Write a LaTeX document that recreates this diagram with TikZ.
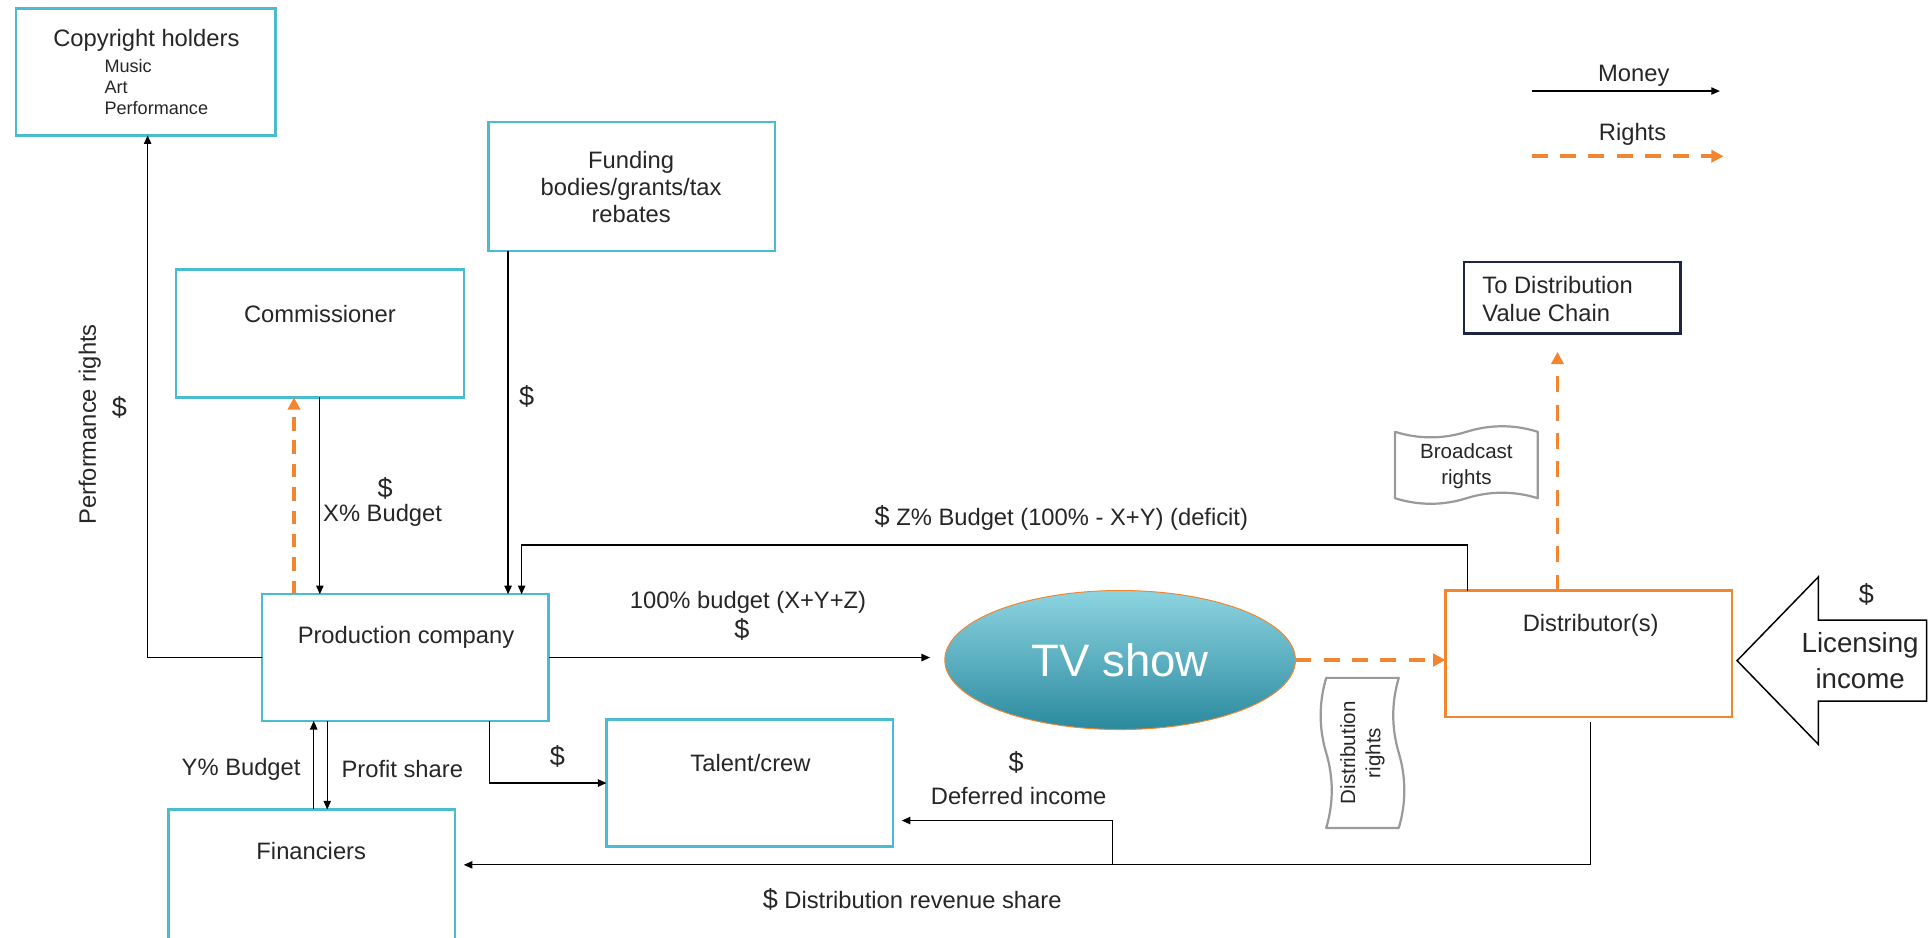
\documentclass[tikz,border=0pt]{standalone}
\usepackage{fontspec}
\setmainfont{Liberation Sans}
\usetikzlibrary{arrows.meta,calc,shapes.geometric}
\definecolor{cyanb}{HTML}{4BBCD0}
\definecolor{orng}{HTML}{F28530}
\definecolor{navy}{HTML}{1E2444}
\definecolor{txt}{HTML}{262626}
\definecolor{tapeg}{HTML}{9A9A9A}
\definecolor{tvtop}{HTML}{8DD4E1}
\definecolor{tvmid}{HTML}{4DB9CD}
\definecolor{tvbot}{HTML}{2A8A9E}
\newcommand{\fmain}{\fontsize{19.3}{22}\selectfont}
\newcommand{\fsmall}{\fontsize{14.7}{17}\selectfont}
\newcommand{\fdol}{\fontsize{22}{24}\selectfont}
\newcommand{\ftape}{\fontsize{16.7}{20.5}\selectfont}
\newcommand{\flic}{\fontsize{22.5}{29}\selectfont}
\newcommand{\ftv}{\fontsize{37}{40}\selectfont}
\newcommand{\fdvc}{\fontsize{19.3}{23}\selectfont}
\begin{document}
\begin{tikzpicture}[x=1pt,y=-1pt,
  every node/.style={text=txt, font=\fmain, inner sep=0pt, outer sep=0pt},
  cbox/.style={draw=cyanb, line width=2pt, rectangle, anchor=north west},
  obox/.style={draw=orng, line width=2pt, rectangle, anchor=north west},
  nbox/.style={draw=navy, line width=2pt, rectangle, anchor=north west},
  money/.style={draw=black, line width=1pt, -{Triangle[length=7pt,width=6pt]}},
  rights/.style={draw=orng, line width=3pt, dash pattern=on 13pt off 10pt, -{Triangle[length=10pt,width=10pt]}},
  tapeline/.style={draw=tapeg, line width=1.8pt, line join=round},
  dol/.style={font=\fdol},
]
\useasboundingbox (0,0) rectangle (1568,762);
\clip (0,0) rectangle (1568,762);

% ---------- boxes ----------
\node[cbox, minimum width=211, minimum height=103] (copy) at (13,7) {};
\node (copyt) at (119,33) {Copyright holders};
\node[font=\fsmall, align=left, anchor=west] (copyl) at (85,71) {Music\\Art\\Performance};

\node[cbox, minimum width=233, minimum height=105] (fund) at (397,99) {};
\node[align=center] (fundt) at (513,152) {Funding\\bodies/grants/tax\\rebates};

\node[cbox, minimum width=234, minimum height=104] (comm) at (143,219) {};
\node (commt) at (260,255) {Commissioner};

\node[cbox, minimum width=233, minimum height=103] (prod) at (213,483) {};
\node (prodt) at (330,518) {Production company};

\node[cbox, minimum width=233, minimum height=103] (tal) at (493,585) {};
\node (talt) at (610,620) {Talent/crew};

\node[cbox, minimum width=233, minimum height=130] (fin) at (137,658) {};
\node (fint) at (253,692) {Financiers};

\node[obox, minimum width=233, minimum height=103] (dist) at (1175,480) {};
\node (distt) at (1293,508) {Distributor(s)};

\node[nbox, minimum width=176, minimum height=58] (dvc) at (1190,213) {};
\node[font=\fdvc, align=left, anchor=west] (dvct) at (1205,243) {To Distribution\\Value Chain};

\node[ellipse, minimum width=285, minimum height=113, top color=tvtop, middle color=tvmid, bottom color=tvbot, draw=orng, line width=0.8pt, text=white, font=\ftv] (tv) at (910.5,536.5) {TV show};

% ---------- tapes ----------
\draw[tapeline] (1134,351) .. controls (1153,357) and (1173,357) .. (1192,351)
  .. controls (1211,345) and (1231,345) .. (1250,351) -- (1250,405)
  .. controls (1231,399) and (1211,399) .. (1192,405)
  .. controls (1173,411) and (1153,411) .. (1134,405) -- cycle;
\node[font=\ftape, align=center] (brt) at (1192,379) {Broadcast\\rights};

\draw[tapeline] (1078,551) -- (1137,551) .. controls (1131,571) and (1131,592) .. (1137,612)
  .. controls (1143,632) and (1143,653) .. (1137,673) -- (1078,673)
  .. controls (1084,653) and (1084,632) .. (1078,612)
  .. controls (1072,592) and (1072,571) .. (1078,551) -- cycle;
\node[font=\ftape, align=center, rotate=90] (drt) at (1107.5,612) {Distribution\\rights};

% ---------- licensing income arrow ----------
\draw[draw=black, line width=1.2pt, fill=white, line join=miter]
  (1412,537) -- (1478,469) -- (1478,504) -- (1566,504) -- (1566,570) -- (1478,570) -- (1478,605) -- cycle;
\node[font=\flic, align=center] (lic) at (1512,537) {Licensing\\income};
\node[dol] (licd) at (1517,483) {\$};

% ---------- connectors ----------
\draw[money] (prod.west) -| ([xshift=107pt]copy.south west);

\coordinate (cA) at ([xshift=117pt]comm.south west);
\draw[money] (cA) -- (cA |- prod.north);

\coordinate (rA) at ([xshift=26pt]prod.north west);
\draw[rights, dash pattern=on 11pt off 8pt] (rA) -- (rA |- comm.south);

\coordinate (fA) at ([xshift=16pt]fund.south west);
\draw[money] (fA) -- (fA |- prod.north);

\coordinate (zA) at ([xshift=18pt]dist.north west);
\coordinate (zB) at ([xshift=211pt]prod.north west);
\draw[money] (zA) -- ++(0,-37) -| (zB);

\draw[money, shorten >=12pt] (prod.east) -- (prod.east -| tv.west);
\draw[rights] (tv.east) -- (tv.east -| dist.west);

\coordinate (dA) at ([xshift=91pt]dist.north west);
\draw[rights, shorten >=15pt] (dA) -- (dA |- dvc.south);

\coordinate (dB) at ([xshift=118pt,yshift=-4pt]dist.south west);
\coordinate (finin) at ([xshift=7pt,yshift=-45pt]fin.north east);
\draw[money] (dB) |- (finin);

\coordinate (brj) at (904,703);
\coordinate (talin) at ([xshift=7pt,yshift=-82pt]tal.north east);
\draw[money] (brj) |- (talin);

\coordinate (pB) at ([xshift=185pt]prod.south west);
\draw[money] (pB) |- (tal.west);

\coordinate (fB) at ([xshift=118pt]fin.north west);
\draw[money] (fB) -- (fB |- prod.south);
\coordinate (fC) at ([xshift=129pt]fin.north west);
\draw[money] (fC |- prod.south) -- (fC);

% ---------- labels ----------
\node[rotate=90] (lperf) at (73,345) {Performance rights};
\node[dol] (lperfd) at (97,331) {\$};
\node[dol] (lxd) at (313,397) {\$};
\node (lx) at (311,419) {X\% Budget};
\node[dol] (lfd) at (428,322) {\$};
\node[anchor=west] (lz) at (711,421) {{\fdol\$} Z\% Budget (100\% - X+Y) (deficit)};
\node (l100) at (608,490) {100\% budget (X+Y+Z)};
\node[dol] (l100d) at (603,512) {\$};
\node[dol] (ltd) at (453,615) {\$};
\node (ly) at (196,625) {Y\% Budget};
\node (lp) at (327,625) {Profit share};
\node[dol] (ldd) at (826,620) {\$};
\node (ldi) at (828,647) {Deferred income};
\node[anchor=west] (ldr) at (620,731) {{\fdol\$} Distribution revenue share};

% ---------- legend ----------
\node (lgm) at (1328,62) {Money};
\coordinate (m1) at (1245,74);
\coordinate (m2) at (1398,74);
\draw[money] (m1) -- (m2);
\node (lgr) at (1327,109) {Rights};
\coordinate (r1) at (1245,127);
\coordinate (r2) at (1401,127);
\draw[rights] (r1) -- (r2);
\end{tikzpicture}
\end{document}
